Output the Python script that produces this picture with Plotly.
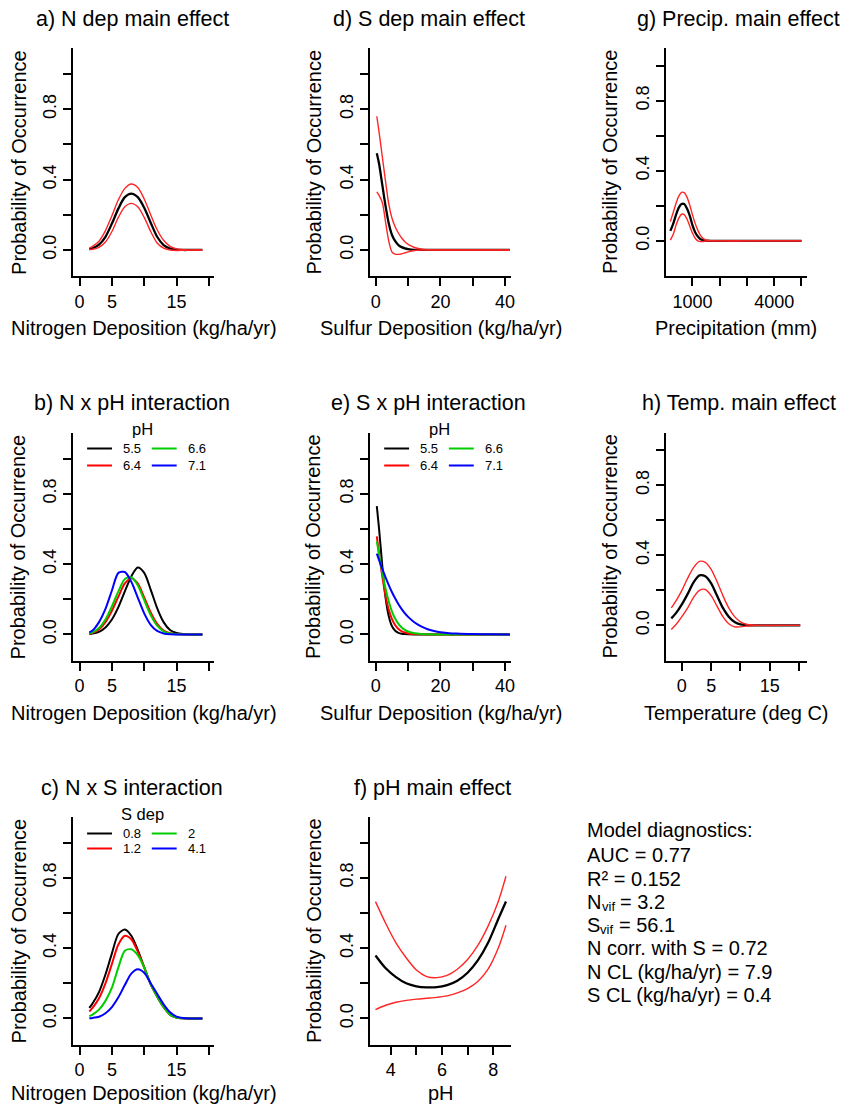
import plotly.graph_objects as go

W, H = 850, 1107

# ---------------- data ----------------
n_dep = [1.5, 2, 3, 4, 5, 6, 7, 8, 9, 10, 11, 12, 13, 14, 15, 16, 17, 18, 19]
s_dep = [0.3, 1, 2, 3, 4, 5, 6, 7, 8, 9, 10, 12, 14, 16, 18, 20, 22, 25, 30, 35, 41.5]
precip = [190, 300, 400, 500, 600, 700, 800, 900, 1000, 1100, 1200, 1300, 1400, 1500, 1700, 2000, 3000, 4000, 5000]
temp = [-1.8, -1, 0, 1, 2, 3, 4, 5, 6, 7, 8, 9, 10, 11, 12, 14, 16, 18, 20.2]
ph = [3.4, 3.8, 4.2, 4.6, 5.0, 5.4, 5.8, 6.2, 6.6, 7.0, 7.4, 7.8, 8.2, 8.5]

# a) N dep main effect
a_fit = [0.005, 0.01, 0.03, 0.075, 0.15, 0.235, 0.30, 0.32, 0.30, 0.24, 0.155, 0.075, 0.028, 0.008, 0.002, 0.0, 0.0, 0.0, 0.0]
a_upr = [0.01, 0.02, 0.05, 0.11, 0.195, 0.285, 0.35, 0.375, 0.355, 0.29, 0.20, 0.115, 0.055, 0.02, 0.006, 0.002, 0.0, 0.0, 0.0]
a_lwr = [0.002, 0.004, 0.015, 0.045, 0.105, 0.185, 0.245, 0.265, 0.245, 0.185, 0.105, 0.04, 0.01, 0.0, -0.003, -0.002, -0.001, 0.0, 0.0]

# d) S dep main effect
d_fit = [0.55, 0.49, 0.37, 0.25, 0.15, 0.085, 0.05, 0.028, 0.016, 0.009, 0.005, 0.001, 0, 0, 0, 0, 0, 0, 0, 0, 0]
d_upr = [0.76, 0.67, 0.53, 0.39, 0.26, 0.18, 0.13, 0.095, 0.068, 0.047, 0.032, 0.014, 0.006, 0.002, 0.001, 0, 0, 0, 0, 0, 0]
d_lwr = [0.33, 0.31, 0.27, 0.16, 0.05, -0.012, -0.024, -0.025, -0.022, -0.017, -0.011, -0.003, 0, 0, 0, 0, 0, 0, 0, 0, 0]

# g) Precip. main effect
g_fit = [0.057, 0.10, 0.15, 0.19, 0.21, 0.21, 0.185, 0.145, 0.09, 0.05, 0.025, 0.01, 0.004, 0.001, 0, 0, 0, 0, 0]
g_upr = [0.11, 0.165, 0.215, 0.255, 0.277, 0.275, 0.25, 0.205, 0.15, 0.10, 0.06, 0.03, 0.013, 0.005, 0.001, 0, 0, 0, 0]
g_lwr = [0.005, 0.04, 0.09, 0.13, 0.152, 0.15, 0.125, 0.085, 0.045, 0.015, 0.0, -0.004, -0.003, -0.001, 0, 0, 0, 0, 0]

# h) Temp. main effect
h_fit = [0.04, 0.07, 0.12, 0.18, 0.245, 0.285, 0.28, 0.24, 0.17, 0.10, 0.05, 0.02, 0.006, 0.002, 0, 0, 0, 0, 0]
h_upr = [0.10, 0.14, 0.20, 0.27, 0.33, 0.365, 0.36, 0.32, 0.25, 0.17, 0.10, 0.05, 0.02, 0.007, 0.002, 0, 0, 0, 0]
h_lwr = [-0.023, 0.005, 0.05, 0.10, 0.16, 0.20, 0.205, 0.17, 0.11, 0.05, 0.01, -0.008, -0.008, -0.004, -0.001, 0, 0, 0, 0]

# f) pH main effect
f_fit = [0.358, 0.285, 0.235, 0.2, 0.183, 0.177, 0.178, 0.19, 0.215, 0.26, 0.33, 0.43, 0.565, 0.665]
f_upr = [0.664, 0.54, 0.43, 0.345, 0.275, 0.238, 0.232, 0.245, 0.28, 0.335, 0.415, 0.525, 0.665, 0.808]
f_lwr = [0.05, 0.075, 0.092, 0.103, 0.11, 0.115, 0.12, 0.128, 0.145, 0.17, 0.21, 0.28, 0.40, 0.53]

# b) N x pH interaction
ph_levels = ["5.5", "6.4", "6.6", "7.1"]
b_curves = [
    [0.003, 0.005, 0.015, 0.04, 0.085, 0.155, 0.245, 0.33, 0.38, 0.35, 0.255, 0.15, 0.07, 0.025, 0.008, 0.002, 0.0, 0.0, 0.0],
    [0.005, 0.009, 0.028, 0.07, 0.135, 0.215, 0.29, 0.32, 0.29, 0.21, 0.125, 0.06, 0.022, 0.007, 0.002, 0, 0, 0, 0],
    [0.007, 0.012, 0.037, 0.085, 0.16, 0.245, 0.315, 0.325, 0.28, 0.195, 0.11, 0.05, 0.018, 0.005, 0.001, 0, 0, 0, 0],
    [0.012, 0.022, 0.07, 0.145, 0.25, 0.35, 0.355, 0.30, 0.21, 0.12, 0.055, 0.02, 0.006, 0.001, 0, 0, 0, 0, 0],
]

# e) S x pH interaction
e_curves = [
    [0.73, 0.6, 0.39, 0.21, 0.104, 0.047, 0.021, 0.009, 0.004, 0.002, 0.001, 0, 0, 0, 0, 0, 0, 0, 0, 0, 0],
    [0.558, 0.46, 0.33, 0.22, 0.14, 0.087, 0.052, 0.031, 0.018, 0.011, 0.006, 0.002, 0.001, 0, 0, 0, 0, 0, 0, 0, 0],
    [0.53, 0.455, 0.352, 0.261, 0.187, 0.13, 0.089, 0.06, 0.04, 0.026, 0.017, 0.007, 0.003, 0.001, 0, 0, 0, 0, 0, 0, 0],
    [0.459, 0.423, 0.373, 0.325, 0.281, 0.24, 0.204, 0.172, 0.144, 0.12, 0.1, 0.068, 0.046, 0.03, 0.02, 0.013, 0.009, 0.005, 0.002, 0.001, 0],
]

# c) N x S interaction
sdep_levels = ["0.8", "1.2", "2", "4.1"]
c_curves = [
    [0.06, 0.085, 0.15, 0.25, 0.37, 0.48, 0.505, 0.47, 0.39, 0.29, 0.195, 0.125, 0.065, 0.022, 0.005, 0.001, 0, 0, 0],
    [0.04, 0.06, 0.115, 0.2, 0.31, 0.42, 0.47, 0.45, 0.38, 0.29, 0.195, 0.125, 0.065, 0.022, 0.005, 0.001, 0, 0, 0],
    [0.013, 0.022, 0.05, 0.1, 0.175, 0.29, 0.385, 0.393, 0.36, 0.29, 0.195, 0.125, 0.065, 0.022, 0.005, 0.001, 0, 0, 0],
    [0.001, 0.003, 0.01, 0.03, 0.065, 0.12, 0.19, 0.255, 0.28, 0.26, 0.2, 0.14, 0.08, 0.035, 0.01, 0.002, 0, 0, 0],
]

level_colors = ["#000000", "#FF0000", "#00CD00", "#0000FF"]

# tick marks: labelled (major) and unlabelled (minor) positions
y_major = [0.0, 0.4, 0.8]
y_minor = [0.2, 0.6, 1.0]
n_major, n_minor = [0, 5, 15], [10, 20]
s_major, s_minor = [0, 20, 40], [10, 30]
ph_major, ph_minor = [4, 6, 8], [5, 7]
p_major, p_minor = [1000, 4000], [2000, 3000, 5000]
t_major, t_minor = [0, 5, 15], [10, 20]

diag_plain = [
    ("Model diagnostics:", 830),
    ("AUC = 0.77", 855),
    ("R\u00b2 = 0.152", 879),
    ("N corr. with S = 0.72", 948),
    ("S CL (kg/ha/yr) = 0.4", 995),
    ("N CL (kg/ha/yr) = 7.9", 972),
]
diag_vif = [("N", "vif", "= 3.2", 902, 14.4), ("S", "vif", "= 56.1", 925, 13.3)]

# ---------------- layout geometry (pixels) ----------------
FONT = "Liberation Sans, Arial, Helvetica, sans-serif"
col_left = [73.5, 372, 669]
box_w = 141.5
row_top = [48, 432.5, 816.5]
box_h = 228
ylab_x = [19, 315, 613]
title_cx = [133, 431, 742]

panels = [
    dict(k=1, col=0, row=0, title="a) N dep main effect", xlabel="Nitrogen Deposition (kg/ha/yr)",
         xr=[-1.0, 20.8], yr=[-0.148, 1.148], xt=n_major, xm=n_minor),
    dict(k=2, col=0, row=1, title="b) N x pH interaction", xlabel="Nitrogen Deposition (kg/ha/yr)",
         xr=[-1.0, 20.8], yr=[-0.148, 1.148], xt=n_major, xm=n_minor),
    dict(k=3, col=0, row=2, title="c) N x S interaction", xlabel="Nitrogen Deposition (kg/ha/yr)",
         xr=[-1.0, 20.8], yr=[-0.148, 1.148], xt=n_major, xm=n_minor),
    dict(k=4, col=1, row=0, title="d) S dep main effect", xlabel="Sulfur Deposition (kg/ha/yr)",
         xr=[-1.73, 41.85], yr=[-0.148, 1.148], xt=s_major, xm=s_minor),
    dict(k=5, col=1, row=1, title="e) S x pH interaction", xlabel="Sulfur Deposition (kg/ha/yr)",
         xr=[-1.73, 41.85], yr=[-0.148, 1.148], xt=s_major, xm=s_minor),
    dict(k=6, col=1, row=2, title="f) pH main effect", xlabel="pH",
         xr=[3.195, 8.70], yr=[-0.148, 1.148], xt=ph_major, xm=ph_minor),
    dict(k=7, col=2, row=0, title="g) Precip. main effect", xlabel="Precipitation (mm)",
         xr=[25, 5192], yr=[-0.2, 1.1], xt=p_major, xm=p_minor),
    dict(k=8, col=2, row=1, title="h) Temp. main effect", xlabel="Temperature (deg C)",
         xr=[-2.73, 21.3], yr=[-0.2, 1.1], xt=t_major, xm=t_minor),
]

fig = go.Figure()


def px(x):
    return x / W


def py(y):
    return 1 - y / H


def add_line(k, x, y, color, width):
    fig.add_trace(go.Scatter(
        x=x, y=y, mode="lines", xaxis=f"x{k}", yaxis=f"y{k}",
        line=dict(color=color, width=width, shape="spline", smoothing=0.8),
        showlegend=False, hoverinfo="skip"))


# main-effect panels: fitted (black) + CI (red)
for k, xs, fit, upr, lwr in [(1, n_dep, a_fit, a_upr, a_lwr), (4, s_dep, d_fit, d_upr, d_lwr),
                             (7, precip, g_fit, g_upr, g_lwr), (8, temp, h_fit, h_upr, h_lwr),
                             (6, ph, f_fit, f_upr, f_lwr)]:
    add_line(k, xs, fit, "#000000", 2.3)
    add_line(k, xs, upr, "#FF2525", 1.4)
    add_line(k, xs, lwr, "#FF2525", 1.4)

for k, xs, curves in [(2, n_dep, b_curves), (5, s_dep, e_curves), (3, n_dep, c_curves)]:
    for ys, colr in zip(curves, level_colors):
        add_line(k, xs, ys, colr, 2.0)

annotations = []
shapes = []
layout_axes = {}


def txt(x, y, text, size, anchor="center", angle=0):
    annotations.append(dict(x=px(x), y=py(y), xref="paper", yref="paper", text=text,
                            showarrow=False, xanchor=anchor, yanchor="middle", textangle=angle,
                            font=dict(family=FONT, size=size, color="black")))


for p in panels:
    k, c, r = p["k"], p["col"], p["row"]
    L, T = col_left[c], row_top[r]
    R, B = L + box_w, T + box_h
    ax_common = dict(showgrid=False, zeroline=False, showline=True, linecolor="black", linewidth=2,
                     ticks="outside", ticklen=8, tickwidth=2, tickcolor="black",
                     tickfont=dict(family=FONT, size=18, color="black"), fixedrange=True)
    minor_common = dict(ticks="outside", ticklen=8, tickwidth=2, tickcolor="black", showgrid=False,
                        tickmode="array")
    layout_axes[f"xaxis{k}"] = dict(domain=[px(L), px(R)], range=p["xr"], anchor=f"y{k}",
                                    tickmode="array", tickvals=p["xt"], ticktext=[f"{v:g}" for v in p["xt"]],
                                    minor=dict(tickvals=p["xm"], **minor_common), **ax_common)
    layout_axes[f"yaxis{k}"] = dict(domain=[py(B), py(T)], range=p["yr"], anchor=f"x{k}",
                                    tickmode="array", tickvals=y_major, ticktext=[f"{v:.1f}" for v in y_major],
                                    minor=dict(tickvals=y_minor, **minor_common),
                                    tickangle=-90, **ax_common)
    tcx = title_cx[c] + (4 if k == 6 else 0)
    txt(tcx, T - 29, p["title"], 21.5)
    xl_y = min(B + 52, 1093)
    txt((L + R) / 2, xl_y, p["xlabel"], 20)
    txt(ylab_x[c], (T + B) / 2, "Probability of Occurrence", 20, angle=-90)


# legends for interaction panels (drawn like R's legend(ncol=2))
def add_legend(L, T, title, labels, dy_title, dy1, dy2):
    txt(L + 70, T + dy_title, title, 16.5)
    pos = [(0, dy1), (0, dy2), (1, dy1), (1, dy2)]
    for (cc, dy), lab, colr in zip(pos, labels, level_colors):
        x0 = L + 14 + cc * 65
        shapes.append(dict(type="line", xref="paper", yref="paper", x0=px(x0), x1=px(x0 + 25),
                           y0=py(T + dy), y1=py(T + dy), line=dict(color=colr, width=2)))
        txt(x0 + 34, T + dy, lab, 13, anchor="left")


add_legend(col_left[0], row_top[1], "pH", ph_levels, -4, 16, 33)
add_legend(col_left[1], row_top[1], "pH", ph_levels, -4, 16, 33)
add_legend(col_left[0], row_top[2], "S dep", sdep_levels, -3, 17, 32)

# diagnostics text
DX = 588
for t, yy in diag_plain:
    txt(DX, yy, t, 20, anchor="left")
for main, sub, rest, yy, wmain in diag_vif:
    txt(DX, yy, main, 20, anchor="left")
    txt(DX + wmain, yy + 4, sub, 13, anchor="left")
    txt(DX + wmain + 13 + 5.6, yy, rest, 20, anchor="left")

fig.update_layout(
    width=W, height=H, autosize=False,
    margin=dict(l=0, r=0, t=0, b=0),
    paper_bgcolor="white", plot_bgcolor="white",
    showlegend=False,
    annotations=annotations, shapes=shapes,
    **layout_axes,
)

fig.write_html("out.html", include_plotlyjs=True, config={"displayModeBar": False},
               post_script="document.body.style.margin='0';document.body.style.padding='0';"
                           "document.body.style.overflow='hidden';")
